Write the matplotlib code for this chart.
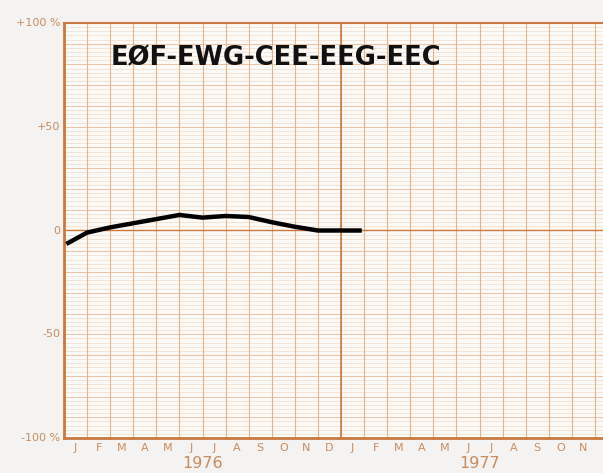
import numpy as np
import matplotlib.pyplot as plt

# Monthly change in % (month index from Jan 1976 start)
month_pos = [0.1, 1, 2, 3, 4, 5, 6, 7, 8, 9, 10, 11, 12, 12.9]
change_pct = [-6.5, -1.0, 1.5, 3.5, 5.5, 7.5, 6.2, 7.0, 6.5, 4.0, 1.8, 0.0, 0.0, 0.0]

month_letters = ['J', 'F', 'M', 'A', 'M', 'J', 'J', 'A', 'S', 'O', 'N', 'D']
years = ['1976', '1977']
ytick_vals = [100, 50, 0, -50, -100]
ytick_text = ['+100 %', '+50', '0', '-50', '-100 %']
title = 'EØF-EWG-CEE-EEG-EEC'

orange = '#c9793f'
label_col = '#c88c5e'

fig = plt.figure(figsize=(6.03, 4.73), dpi=100, facecolor='#f4f3f1')
ax = fig.add_axes([64 / 603, 35 / 473, (603 - 64) / 603, 415 / 473])
ax.set_facecolor('#fcfaf6')
ax.set_xlim(0, 23.35)
ax.set_ylim(-100, 100)

# graph-paper grid
for y in np.arange(-100, 101, 2):
    ax.axhline(y, color='#f2dcc9', lw=0.5, zorder=1)
for y in np.arange(-100, 101, 10):
    ax.axhline(y, color='#ebc4a3', lw=0.7, zorder=1)
ax.axhline(0, color=orange, lw=1.0, zorder=2)
for m in range(1, 24):
    ax.axvline(m, color='#e6b48c', lw=0.8, zorder=1)
ax.axvline(12, color=orange, lw=1.2, zorder=2)

ax.plot(month_pos, change_pct, color='black', lw=3.2, solid_capstyle='butt', zorder=5)

for side in ['left', 'bottom', 'top']:
    ax.spines[side].set_color(orange)
ax.spines['left'].set_linewidth(2)
ax.spines['bottom'].set_linewidth(2)
ax.spines['top'].set_linewidth(1.5)
ax.spines['right'].set_visible(False)

ax.set_xticks([])
ax.set_yticks([])
for v, t in zip(ytick_vals, ytick_text):
    ax.text(-0.15, v, t, ha='right', va='center', color=label_col, fontsize=8,
            clip_on=False)

for yi, yr in enumerate(years):
    for i, m in enumerate(month_letters):
        ax.text(yi * 12 + i + 0.5, -105, m, ha='center', va='center',
                color=label_col, fontsize=8, clip_on=False)
    ax.text(yi * 12 + 6, -112.5, yr, ha='center', va='center',
            color=label_col, fontsize=11.5, clip_on=False)

ax.text(2.0, 83, title, ha='left', va='center', fontsize=18.5,
        fontweight='bold', color='#111111', zorder=6)

fig.savefig('out.png', dpi=100, facecolor=fig.get_facecolor())
